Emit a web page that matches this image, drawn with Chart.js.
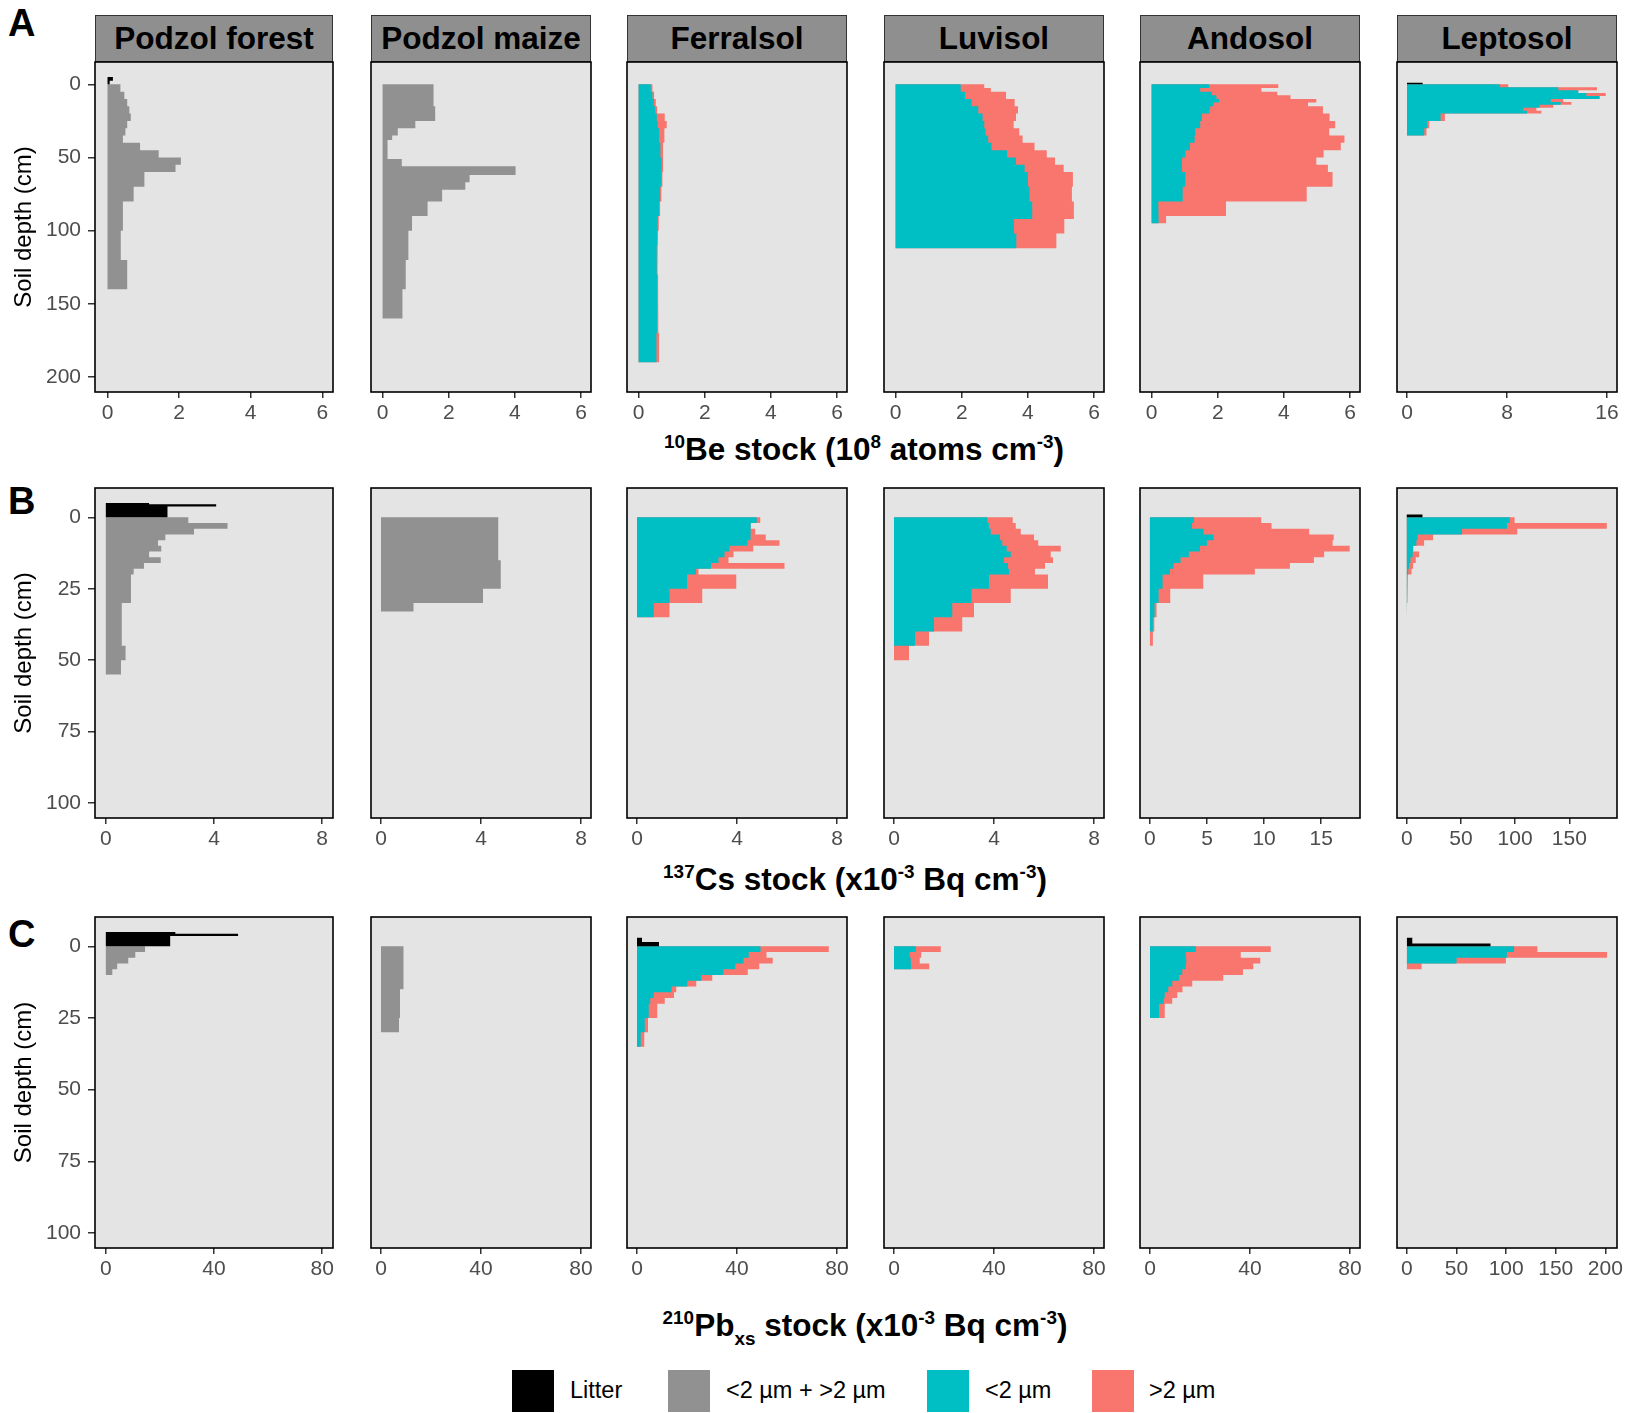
<!DOCTYPE html>
<html>
<head>
<meta charset="utf-8">
<title>Soil profiles</title>
<script src="https://cdn.jsdelivr.net/npm/chart.js@4.4.1/dist/chart.umd.min.js"></script>
<style>
  body { margin: 0; background: #fff; font-family: 'Liberation Sans', Arial, sans-serif; }
  #fig { position: relative; width: 1628px; height: 1413px; overflow: hidden; }
  #fig canvas { position: absolute; }
  .strip { position: absolute; top: 15px; height: 47px; box-sizing: border-box; background: #8f8f8f;
           border: 1.5px solid #333; font-weight: bold; font-size: 31.5px; color: #000;
           display: flex; align-items: center; justify-content: center; }
  .tag { position: absolute; left: 8px; font-weight: bold; font-size: 38px; color: #000; }
  .xtitle { position: absolute; transform: translateX(-50%); white-space: nowrap;
            font-weight: bold; font-size: 31.5px; color: #000; }
  .xtitle sup { font-size: 0.6em; vertical-align: 0.62em; }
  .xtitle sub { font-size: 0.6em; vertical-align: -0.45em; }
  .key { position: absolute; top: 1370px; width: 42px; height: 42px; }
  .klabel { position: absolute; top: 1377px; font-size: 23.5px; color: #000; white-space: nowrap; }
</style>
</head>
<body>
<div id="fig">
  <div class="tag" style="top:2px">A</div>
  <div class="tag" style="top:480px">B</div>
  <div class="tag" style="top:913px">C</div>

  <div class="xtitle" style="left:864px;top:431px"><sup>10</sup>Be stock (10<sup>8</sup> atoms cm<sup>-3</sup>)</div>
  <div class="xtitle" style="left:855px;top:861px"><sup>137</sup>Cs stock (x10<sup>-3</sup> Bq cm<sup>-3</sup>)</div>
  <div class="xtitle" style="left:865px;top:1307px"><sup>210</sup>Pb<sub>xs</sub> stock (x10<sup>-3</sup> Bq cm<sup>-3</sup>)</div>

  <div class="key" style="left:512px;background:#000000"></div><div class="klabel" style="left:570px">Litter</div>
  <div class="key" style="left:668px;background:#919191"></div><div class="klabel" style="left:726px">&lt;2 µm + &gt;2 µm</div>
  <div class="key" style="left:927px;background:#00BFC4"></div><div class="klabel" style="left:985px">&lt;2 µm</div>
  <div class="key" style="left:1092px;background:#F8766D"></div><div class="klabel" style="left:1149px">&gt;2 µm</div>
</div>

<script>
// soil names (facet strips)
const soils = ['Podzol forest', 'Podzol maize', 'Ferralsol', 'Luvisol', 'Andosol', 'Leptosol'];

// ---------- A: 10Be stock (10^8 atoms cm-3) ----------
const beLitterPodzolForestDepth = [-5, -2.5, 0];
const beLitterPodzolForest = [0.15, 0.06];
const bePodzolForestDepth = [0, 5, 10, 15, 20, 25, 30, 35, 40, 45, 50, 55, 60, 70, 80, 100, 120, 140];
const bePodzolForestBulk = [0.36, 0.47, 0.55, 0.61, 0.65, 0.55, 0.5, 0.43, 0.91, 1.43, 2.05, 1.9, 1.03, 0.73, 0.43, 0.37, 0.55];
const bePodzolMaizeDepth = [0, 15, 25, 30, 35, 38, 51, 56, 62, 67, 72, 80, 90, 100, 120, 140, 160];
const bePodzolMaizeBulk = [1.54, 1.59, 0.99, 0.46, 0.29, 0.15, 0.58, 4.02, 2.63, 2.5, 1.8, 1.36, 0.89, 0.78, 0.7, 0.6];
const beFerralsolDepth = [0, 5, 10, 15, 20, 25, 30, 40, 50, 60, 70, 80, 90, 100, 110, 130, 150, 170, 190];
const beFerralsolFine = [0.37, 0.42, 0.46, 0.5, 0.55, 0.58, 0.62, 0.66, 0.7, 0.68, 0.65, 0.62, 0.58, 0.56, 0.55, 0.56, 0.56, 0.54];
const beFerralsolCoarse = [0.05, 0.05, 0.06, 0.06, 0.24, 0.27, 0.16, 0.08, 0.04, 0.04, 0.04, 0.03, 0.03, 0.02, 0.02, 0.03, 0.04, 0.08];
const beLuvisolDepth = [0, 2.5, 5, 10, 15, 20, 25, 30, 35, 40, 45, 50, 55, 60, 70, 80, 92, 102, 112];
const beLuvisolFine = [1.97, 1.97, 2.1, 2.3, 2.5, 2.63, 2.68, 2.72, 2.8, 2.9, 3.37, 3.64, 3.9, 4.0, 4.05, 4.13, 3.58, 3.65];
const beLuvisolCoarse = [0.71, 0.91, 1.24, 1.3, 1.2, 1.01, 0.89, 1.02, 1.04, 1.3, 1.2, 1.18, 1.18, 1.36, 1.28, 1.26, 1.52, 1.21];
const beAndosolDepth = [0, 2.5, 5, 7.5, 10, 12.5, 15, 17.5, 20, 25, 30, 35, 40, 45, 50, 55, 60, 70, 80, 90, 95];
const beAndosolFine = [1.74, 1.47, 1.82, 1.96, 2.04, 1.87, 1.77, 1.75, 1.52, 1.47, 1.32, 1.3, 1.16, 1.02, 0.92, 0.92, 1.02, 0.94, 0.2, 0.22];
const beAndosolCoarse = [2.09, 1.85, 1.98, 2.24, 2.94, 2.86, 3.41, 3.43, 3.86, 4.08, 4.05, 4.53, 4.56, 4.18, 4.06, 4.41, 4.45, 3.75, 2.05, 0.22];
const beLitterLeptosolDepth = [-1, 0];
const beLitterLeptosol = [1.25];
const beLeptosolDepth = [0, 2, 4, 6, 8, 10, 12, 14, 16, 18, 20, 25, 30, 35];
const beLeptosolFine = [7.43, 12.1, 13.7, 14.35, 15.4, 11.5, 12.3, 10.6, 9.3, 9.6, 2.69, 1.62, 1.38];
const beLeptosolCoarse = [0.67, 3.1, 0, 1.55, 0, 1.0, 0.85, 1.1, 1.05, 1.15, 0.34, 0.16, 0.18];

// ---------- B: 137Cs stock (x10^-3 Bq cm-3) ----------
const csLitterPodzolForestDepth = [-5, -4.6, -3.8, 0];
const csLitterPodzolForest = [1.6, 4.08, 2.28];
const csPodzolForestDepth = [0, 2, 4, 6, 8, 10, 12, 14, 16, 18, 20, 30, 45, 50, 55];
const csPodzolForestBulk = [3.05, 4.5, 3.26, 2.2, 1.93, 2.05, 1.6, 2.03, 1.41, 1.03, 0.93, 0.59, 0.73, 0.56];
const csPodzolMaizeDepth = [0, 15, 25, 30, 33];
const csPodzolMaizeBulk = [4.69, 4.79, 4.08, 1.3];
const csFerralsolDepth = [0, 2, 4, 6, 8, 10, 12, 14, 16, 18, 20, 25, 30, 35];
const csFerralsolFine = [4.79, 4.55, 4.55, 4.53, 4.42, 3.7, 3.5, 3.26, 2.96, 2.36, 2.0, 1.3, 0.67];
const csFerralsolCoarse = [0.14, 0, 0.18, 0.62, 1.28, 0.95, 0.36, 0.4, 2.94, 0.1, 1.97, 1.31, 0.63];
const csLuvisolDepth = [0, 2, 4, 6, 8, 10, 12, 14, 16, 18, 20, 25, 30, 35, 40, 45, 50];
const csLuvisolFine = [3.73, 3.8, 3.87, 4.24, 4.33, 4.51, 4.67, 4.4, 4.56, 4.6, 3.8, 3.1, 2.33, 1.6, 0.84, 0];
const csLuvisolCoarse = [1.02, 1.07, 1.2, 1.36, 1.44, 2.16, 1.6, 1.96, 1.48, 1.04, 2.36, 1.57, 0.87, 1.13, 0.56, 0.6];
const csAndosolDepth = [0, 2, 4, 6, 8, 10, 12, 14, 16, 18, 20, 25, 30, 35, 40, 45];
const csAndosolFine = [3.85, 3.68, 4.7, 5.57, 4.99, 4.38, 3.41, 2.68, 2.07, 1.75, 1.11, 0.76, 0.41, 0.26, 0];
const csAndosolCoarse = [5.9, 6.97, 9.25, 10.53, 11.01, 13.12, 11.85, 11.68, 10.19, 7.44, 3.56, 1.02, 0.17, 0.12, 0.26];
const csLitterLeptosolDepth = [-1, 0];
const csLitterLeptosol = [14.5];
const csLeptosolDepth = [0, 2, 4, 6, 8, 10, 12, 14, 16, 18, 20, 25, 30, 35];
const csLeptosolFine = [95, 92.5, 51, 10, 8.9, 5.9, 5.5, 3.4, 2.2, 1.3, 0.7, 0.3, 0.2];
const csLeptosolCoarse = [4.5, 92.1, 51, 14.3, 7.1, 0, 5.9, 4.9, 3.7, 3.1, 0, 0, 0];

// ---------- C: 210Pbxs stock (x10^-3 Bq cm-3) ----------
const pbLitterPodzolForestDepth = [-5, -4.4, -3.6, 0];
const pbLitterPodzolForest = [25.7, 48.9, 23.8];
const pbPodzolForestDepth = [0, 2, 4, 6, 8, 10];
const pbPodzolForestBulk = [14.5, 10.9, 8.3, 4.2, 2.4];
const pbPodzolMaizeDepth = [0, 15, 25, 30];
const pbPodzolMaizeBulk = [9.0, 7.6, 7.2];
const pbLitterFerralsolDepth = [-3, -1.5, 0];
const pbLitterFerralsol = [2.0, 8.8];
const pbFerralsolDepth = [0, 2, 4, 6, 8, 10, 12, 14, 16, 18, 20, 25, 30, 35];
const pbFerralsolFine = [49.4, 44.7, 42.6, 39.3, 34.6, 25.7, 20.1, 13.8, 6.7, 5.3, 4.7, 3.1, 1.5];
const pbFerralsolCoarse = [27.3, 7.1, 11.7, 9.6, 9.7, 4.4, 3.6, 1.9, 8.1, 5.8, 3.4, 1.3, 1.4];
const pbLuvisolDepth = [0, 2, 4, 6, 8];
const pbLuvisolFine = [8.7, 6.3, 6.7, 6.8];
const pbLuvisolCoarse = [10, 4.6, 3.6, 7.3];
const pbAndosolDepth = [0, 2, 4, 6, 8, 10, 12, 14, 16, 18, 20, 25];
const pbAndosolFine = [18.3, 14.3, 14.5, 14.3, 12.9, 11.6, 8.9, 7.3, 5.9, 5.5, 3.6];
const pbAndosolCoarse = [30, 22, 29.6, 27, 24.3, 17.7, 8, 5.7, 5, 3.4, 2.3];
const pbLitterLeptosolDepth = [-3, -1, 0];
const pbLitterLeptosol = [5.4, 84.2];
const pbLeptosolDepth = [0, 2, 4, 6, 8];
const pbLeptosolFine = [108, 100.7, 50, 0];
const pbLeptosolCoarse = [23.5, 101, 49.7, 14.8];

// axis ticks
const depthTicksA = [0, 50, 100, 150, 200];
const depthTicksBC = [0, 25, 50, 75, 100];
const beTicks = [0, 2, 4, 6];
const beLeptosolTicks = [0, 8, 16];
const csTicks = [0, 4, 8];
const csAndosolTicks = [0, 5, 10, 15];
const csLeptosolTicks = [0, 50, 100, 150];
const pbTicks = [0, 40, 80];
const pbLeptosolTicks = [0, 50, 100, 150, 200];

const COLORS = { litter: '#000000', bulk: '#919191', fine: '#00BFC4', coarse: '#F8766D' };
const FONT = "'Liberation Sans', Arial, sans-serif";

// layout of the facet grid (px)
const panelLeft = [95, 371, 627, 884, 1140, 1397];
const panelWidth = [238, 220, 220, 220, 220, 220];
const rowTop = [62, 488, 917];
const rowHeight = [330, 330, 331];
const rowDepth = [[-15.25, 210.25], [-10.25, 105.25], [-10.25, 105.25]];
const rowDepthTicks = [depthTicksA, depthTicksBC, depthTicksBC];

const panels = [
    { row: 0, col: 0, x: [-0.35, 6.3], ticks: beTicks,
      litter: [beLitterPodzolForestDepth, beLitterPodzolForest], bulk: [bePodzolForestDepth, bePodzolForestBulk] },
    { row: 0, col: 1, x: [-0.35, 6.3], ticks: beTicks, bulk: [bePodzolMaizeDepth, bePodzolMaizeBulk] },
    { row: 0, col: 2, x: [-0.35, 6.3], ticks: beTicks, split: [beFerralsolDepth, beFerralsolFine, beFerralsolCoarse] },
    { row: 0, col: 3, x: [-0.35, 6.3], ticks: beTicks, split: [beLuvisolDepth, beLuvisolFine, beLuvisolCoarse] },
    { row: 0, col: 4, x: [-0.35, 6.3], ticks: beTicks, split: [beAndosolDepth, beAndosolFine, beAndosolCoarse] },
    { row: 0, col: 5, x: [-0.8, 16.8], ticks: beLeptosolTicks,
      litter: [beLitterLeptosolDepth, beLitterLeptosol], split: [beLeptosolDepth, beLeptosolFine, beLeptosolCoarse] },

    { row: 1, col: 0, x: [-0.4, 8.4], ticks: csTicks,
      litter: [csLitterPodzolForestDepth, csLitterPodzolForest], bulk: [csPodzolForestDepth, csPodzolForestBulk] },
    { row: 1, col: 1, x: [-0.4, 8.4], ticks: csTicks, bulk: [csPodzolMaizeDepth, csPodzolMaizeBulk] },
    { row: 1, col: 2, x: [-0.4, 8.4], ticks: csTicks, split: [csFerralsolDepth, csFerralsolFine, csFerralsolCoarse] },
    { row: 1, col: 3, x: [-0.4, 8.4], ticks: csTicks, split: [csLuvisolDepth, csLuvisolFine, csLuvisolCoarse] },
    { row: 1, col: 4, x: [-0.87, 18.4], ticks: csAndosolTicks, split: [csAndosolDepth, csAndosolFine, csAndosolCoarse] },
    { row: 1, col: 5, x: [-9, 194], ticks: csLeptosolTicks,
      litter: [csLitterLeptosolDepth, csLitterLeptosol], split: [csLeptosolDepth, csLeptosolFine, csLeptosolCoarse] },

    { row: 2, col: 0, x: [-4, 84], ticks: pbTicks,
      litter: [pbLitterPodzolForestDepth, pbLitterPodzolForest], bulk: [pbPodzolForestDepth, pbPodzolForestBulk] },
    { row: 2, col: 1, x: [-4, 84], ticks: pbTicks, bulk: [pbPodzolMaizeDepth, pbPodzolMaizeBulk] },
    { row: 2, col: 2, x: [-4, 84], ticks: pbTicks,
      litter: [pbLitterFerralsolDepth, pbLitterFerralsol], split: [pbFerralsolDepth, pbFerralsolFine, pbFerralsolCoarse] },
    { row: 2, col: 3, x: [-4, 84], ticks: pbTicks, split: [pbLuvisolDepth, pbLuvisolFine, pbLuvisolCoarse] },
    { row: 2, col: 4, x: [-4, 84], ticks: pbTicks, split: [pbAndosolDepth, pbAndosolFine, pbAndosolCoarse] },
    { row: 2, col: 5, x: [-10, 211.7], ticks: pbLeptosolTicks,
      litter: [pbLitterLeptosolDepth, pbLitterLeptosol], split: [pbLeptosolDepth, pbLeptosolFine, pbLeptosolCoarse] }
];

// closed step outline of a depth profile: one flat step per layer, back to x = 0
function outline(depth, values) {
    const pts = [{ x: 0, y: depth[0] }];
    values.forEach((v, i) => {
        pts.push({ x: v, y: depth[i] });
        pts.push({ x: v, y: depth[i + 1] });
    });
    pts.push({ x: 0, y: depth[depth.length - 1] });
    return pts;
}

function area(points, color, order) {
    return {
        data: points,
        fill: 'shape',
        backgroundColor: color,
        borderWidth: 0,
        pointRadius: 0,
        order: order
    };
}

function datasetsFor(p) {
    const sets = [];
    if (p.litter) sets.push(area(outline(p.litter[0], p.litter[1]), COLORS.litter, 0));
    if (p.split) {
        const [depth, fine, coarse] = p.split;
        // stack the >2 µm part on top of the <2 µm part
        const total = fine.map((v, i) => v + coarse[i]);
        sets.push(area(outline(depth, fine), COLORS.fine, 1));
        sets.push(area(outline(depth, total), COLORS.coarse, 2));
    }
    if (p.bulk) sets.push(area(outline(p.bulk[0], p.bulk[1]), COLORS.bulk, 3));
    return sets;
}

// grey panel background + black frame
const panelFrame = {
    id: 'panelFrame',
    beforeDraw(chart) {
        const { ctx, chartArea: a } = chart;
        ctx.save();
        ctx.fillStyle = '#E4E4E4';
        ctx.fillRect(a.left, a.top, a.width, a.height);
        ctx.restore();
    },
    afterDraw(chart) {
        const { ctx, chartArea: a } = chart;
        ctx.save();
        ctx.strokeStyle = '#000';
        ctx.lineWidth = 1.6;
        ctx.strokeRect(a.left, a.top, a.width, a.height);
        ctx.restore();
    }
};

const fig = document.getElementById('fig');
const X_AXIS_H = 38;
const PAD_R = 24;   // room for tick labels hanging past the right edge

// facet strips on the first row
soils.forEach((name, c) => {
    const s = document.createElement('div');
    s.className = 'strip';
    s.style.left = panelLeft[c] + 'px';
    s.style.width = panelWidth[c] + 'px';
    s.textContent = name;
    fig.appendChild(s);
});

// keep the plot area fixed: no extra room for half tick labels
function noLabelPadding(scale) {
    scale.paddingTop = 0;
    scale.paddingBottom = 0;
    scale.paddingLeft = 0;
    scale.paddingRight = 0;
}

panels.forEach(p => {
    const first = p.col === 0;
    const padL = first ? 0 : 2;
    const left = first ? 0 : panelLeft[p.col] - 2;
    const yAxisW = first ? panelLeft[0] : 0;
    const width = (first ? panelLeft[0] : 2) + panelWidth[p.col] + PAD_R;
    const height = 2 + rowHeight[p.row] + X_AXIS_H;

    const canvas = document.createElement('canvas');
    canvas.width = width;
    canvas.height = height;
    canvas.style.left = left + 'px';
    canvas.style.top = (rowTop[p.row] - 2) + 'px';
    fig.appendChild(canvas);

    const tickFont = { family: FONT, size: 21 };
    const depthTicks = rowDepthTicks[p.row];

    new Chart(canvas, {
        type: 'line',
        data: { datasets: datasetsFor(p) },
        options: {
            responsive: false,
            animation: false,
            events: [],
            layout: { autoPadding: false, padding: { left: padL, right: PAD_R, top: 2, bottom: 0 } },
            plugins: { legend: { display: false }, tooltip: { enabled: false } },
            scales: {
                x: {
                    type: 'linear',
                    min: p.x[0],
                    max: p.x[1],
                    afterBuildTicks: scale => { scale.ticks = p.ticks.map(v => ({ value: v })); },
                    afterFit: scale => { scale.height = X_AXIS_H; noLabelPadding(scale); },
                    ticks: { font: tickFont, color: '#4D4D4D', padding: 3, maxRotation: 0,
                             callback: v => String(v) },
                    grid: { drawOnChartArea: false, color: '#333333', lineWidth: 1.5, tickLength: 6 },
                    border: { display: false }
                },
                y: {
                    type: 'linear',
                    reverse: true,
                    display: first,
                    min: rowDepth[p.row][0],
                    max: rowDepth[p.row][1],
                    afterBuildTicks: scale => { scale.ticks = depthTicks.map(v => ({ value: v })); },
                    afterFit: scale => { scale.width = yAxisW; noLabelPadding(scale); },
                    ticks: { font: tickFont, color: '#4D4D4D', padding: 7, callback: v => String(v) },
                    grid: { drawOnChartArea: false, color: '#333333', lineWidth: 1.5, tickLength: 7 },
                    border: { display: false },
                    title: { display: true, text: 'Soil depth (cm)', color: '#000',
                             font: { family: FONT, size: 24 }, padding: { top: 10, bottom: 2 } }
                }
            }
        },
        plugins: [panelFrame]
    });
});
</script>
</body>
</html>
